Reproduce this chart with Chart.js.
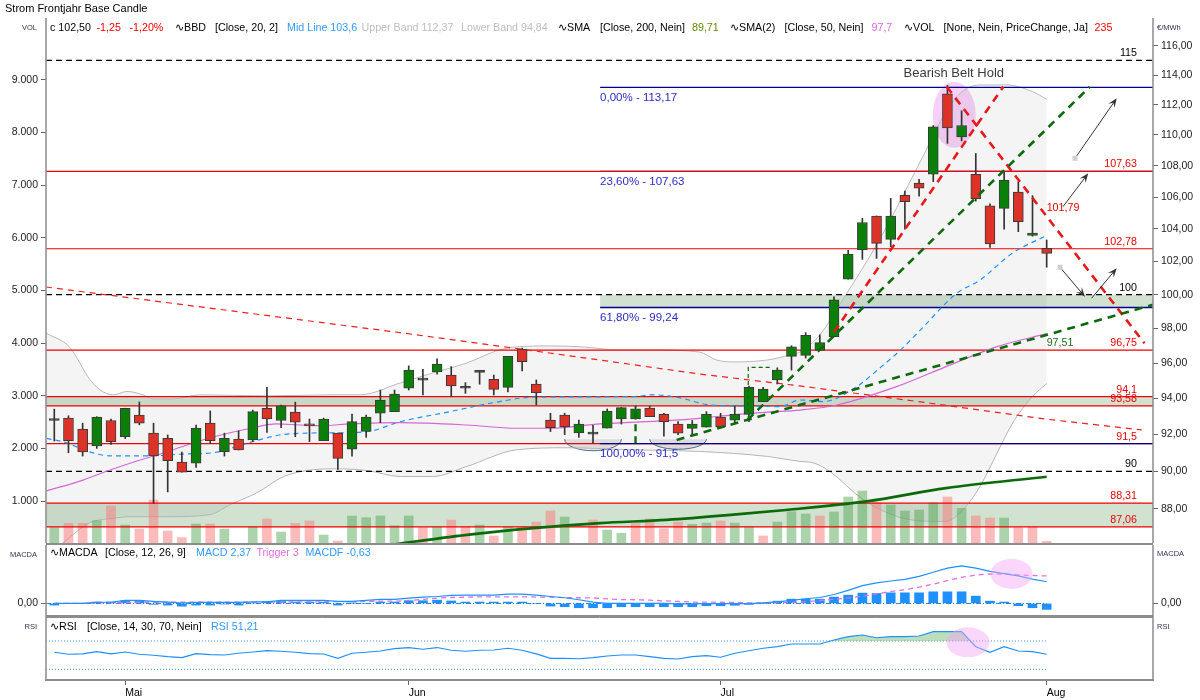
<!DOCTYPE html>
<html lang="de">
<head>
<meta charset="utf-8">
<title>Strom Frontjahr Base Candle</title>
<script src="https://cdn.jsdelivr.net/npm/chart.js@4.4.1/dist/chart.umd.min.js"></script>
<style>
  html, body { margin:0; padding:0; background:#fff; }
  body { width:1200px; height:700px; position:relative; overflow:hidden; }
  canvas { position:absolute; left:0; display:block; }
</style>
</head>
<body>
<canvas id="mainChart" width="1200" height="545" style="top:0"></canvas>
<canvas id="macdChart" width="1200" height="72" style="top:545px"></canvas>
<canvas id="rsiChart" width="1200" height="83" style="top:617px"></canvas>
<script>
// ---------------- DATA ----------------
// one entry per trading day, index 0 = late April, index 70 = 1 August
const candleOpen  = [92.77,92.90,92.29,91.37,92.77,91.88,93.07,92.07,91.79,90.49, 90.43,92.62,91.06,91.74,91.70,93.45,92.77,93.23,92.49,91.66, 92.07,91.19,92.16,93.18,93.26, 94.57,95.03,95.50,95.32,94.57, 95.47,95.08,94.62,96.80,94.80, 92.79,93.07,92.09,92.02,92.35, 92.85,92.85,93.46,93.11,92.57, 92.33,92.40,92.96,92.79,93.11, 93.82,95.04,96.39,96.44,96.73, 97.52,100.93,102.70,104.81,103.36, 106.10,106.88,107.45,112.74,109.87, 107.45,105.44,105.29,106.32,103.60, 102.80];
const candleHigh  = [93.40,93.03,92.62,92.98,92.85,93.45,93.80,92.62,91.97,91.04, 92.51,93.30,92.07,92.20,93.35,94.62,93.62,93.79,92.85,92.90, 92.07,93.13,93.07,94.47,94.47, 95.84,95.65,96.25,95.80,94.89, 95.50,95.32,96.39,96.86,95.04, 93.17,93.17,92.79,92.50,93.41, 93.50,93.57,93.57,93.17,92.71, 92.77,93.26,93.17,93.57,94.70, 94.62,95.73,97.00,97.76,97.64, 99.87,102.68,104.66,104.81,105.91, 106.37,107.13,110.62,113.30,111.60, 108.79,105.57,107.61,106.98,106.09, 103.32];
const candleLow   = [91.64,91.00,90.82,91.24,91.46,91.77,92.53,88.30,88.90,89.95, 90.21,91.52,90.82,91.15,91.61,92.11,92.37,91.88,91.61,91.66, 90.10,90.82,91.84,92.65,93.26, 94.47,94.19,95.37,94.13,94.28, 94.80,94.19,94.37,95.56,93.63, 92.16,91.99,91.84,91.52,92.35, 92.57,92.85,92.98,91.90,91.99, 91.95,92.40,92.35,92.65,92.71, 93.82,94.81,95.60,96.29,96.73, 97.52,100.93,102.13,102.19,102.90, 103.99,106.06,106.98,109.45,109.61, 105.74,102.86,103.99,103.83,103.55, 101.65];
const candleClose = [92.77,91.66,91.04,92.96,91.60,93.45,92.62,90.83,90.57,89.95, 92.35,91.66,91.79,91.15,93.26,92.85,93.58,92.68,92.47,92.85, 90.70,92.71,92.96,93.91,94.24, 95.60,95.03,95.94,94.70,94.57, 95.47,94.51,96.39,96.08,94.32, 92.37,92.42,92.57,92.02,93.29, 93.48,93.41,92.98,92.71,92.07, 92.57,93.11,92.42,93.11,94.62, 94.53,95.60,96.93,97.60,97.18, 99.70,102.46,104.40,103.11,104.81, 105.71,106.56,110.54,110.47,110.62, 105.89,103.07,107.08,104.46,103.75, 102.50];
const volume = [499,582,583,632,911,550,474,1025,436,310, 569,569,474,null,518,664,417,583,626,360, 247,721,689,721,537, 721,499,518,645,518, 550,342,518,518,607, 816,702,null,645,455, 392,575,664,480,607, 563,588,626,588,518, 342,607,803,759,721, 797,1082,1195,974,930, 816,835,974,1082,867, 721,683,683,500,518, 240];
// +1 price up (green volume bar), -1 price down (red volume bar)
const volumeChange = [1,-1,-1,1,-1,1,-1,-1,-1,-1, 1,-1,1,-1,1,-1,1,-1,-1,1, -1,1,1,1,1, 1,-1,1,-1,-1, 1,-1,1,-1,-1, -1,1,1,-1,1, 1,-1,-1,-1,-1, 1,1,-1,1,1, -1,1,1,1,-1, 1,1,1,-1,1, 1,1,1,-1,1, -1,-1,1,-1,-1, -1];

const macdLine = [0.00,0.00,0.00,0.13,0.13,0.33,0.33,0.22,0.15,0.05, 0.11,0.11,0.11,0.11,0.18,0.18,0.33,0.33,0.33,0.33, 0.22,0.22,0.33,0.44,0.44, 0.58,0.69,0.76,0.87,0.91, 0.91,0.91,1.02,1.02,0.91, 0.76,0.62,0.40,0.15,0.00, 0.00,0.00,0.00,0.00,-0.05, -0.05,-0.03,-0.03,-0.03,-0.03, 0.07,0.18,0.33,0.51,0.65, 0.98,1.42,1.95,2.25,2.45, 2.62,2.95,3.40,3.85,4.10, 3.85,3.50,3.25,3.00,2.65, 2.37];
const macdTrigger = [0.00,0.00,0.00,0.05,0.08,0.10,0.13,0.13,0.13,0.13, 0.13,0.13,0.13,0.13,0.13,0.15,0.15,0.18,0.18,0.18, 0.20,0.20,0.22,0.25,0.25, 0.33,0.44,0.58,0.65,0.68, 0.72,0.72,0.72,0.72,0.70, 0.69,0.62,0.62,0.60,0.50, 0.42,0.40,0.36,0.28,0.22, 0.15,0.15,0.13,0.12,0.06, 0.05,0.08,0.12,0.20,0.32, 0.45,0.60,0.80,1.05,1.30, 1.50,1.78,2.10,2.50,2.85, 3.10,3.22,3.20,3.12,3.05, 3.00];
const macdHistogram = [-0.18,0.00,0.00,0.15,0.15,0.30,0.30,-0.10,-0.18,-0.30, -0.18,-0.18,-0.07,-0.18,0.05,0.22,0.22,0.15,0.15,0.15, -0.18,0.02,0.00,0.15,0.15, 0.30,0.30,0.36,0.27,0.15, 0.15,0.15,0.15,0.15,0.00, -0.29,-0.36,-0.47,-0.47,-0.47, -0.36,-0.36,-0.36,-0.36,-0.36, -0.36,-0.25,-0.25,-0.20,-0.10, 0.00,0.25,0.47,0.47,0.47, 0.69,0.91,1.13,1.09,1.16, 1.16,1.16,1.27,1.27,1.27, 0.80,0.25,0.15,-0.25,-0.47, -0.65];
const rsiValues = [54.1,51.2,51.8,55.0,51.8,54.5,51.2,49.8,47.9,46.5, 52.1,50.7,50.3,52.6,54.5,56.4,55.5,54.1,52.1,51.6, 45.5,52.6,54.1,55.9,59.2, 60.7,58.3,60.7,56.9,55.5, 56.9,57.3,59.7,56.9,51.8, 45.5,45.5,45.0,46.5,48.8, 50.3,50.3,47.9,45.5,44.6, 47.9,49.3,47.0,52.6,56.3, 59.7,62.0,65.8,65.8,65.8, 71.5,76.2,78.5,74.7,76.2, 76.2,77.1,83.2,83.2,83.2, 62.0,54.0,62.0,55.9,55.0, 51.21];

// indicator curves as [day index, value] readings
const bollingerUpper = [[-0.585,97.74],[1.1,96.9],[2.53,95.04],[3.23,94.48],[4.14,94.20],[5.13,94.39],[6.26,94.20],[6.97,93.97],[8.38,93.97],[10.28,94.20],[15.0,94.14],[19.66,94.20],[21.57,94.20],[24.4,94.87],[26.7,95.44],[29.1,96.01],[31.4,96.76],[32.6,96.93],[35.0,96.99],[37.3,96.93],[39.7,96.76],[42.0,96.76],[45.5,96.64],[46.7,96.18],[47.9,96.07],[50.3,96.18],[51.9,96.47],[52.6,96.64],[54.0,97.63],[55.6,99.68],[58.2,103.32],[61.5,109.02],[62.7,111.21],[63.9,112.77],[65.3,113.33],[67.2,113.33],[69.0,112.88],[70,112.37]];
const bollingerLower = [[-0.585,85.5],[0.61,86.23],[2.52,87.28],[3.93,87.49],[5.55,87.59],[7.95,87.59],[10.98,87.70],[12.39,88.22],[14.29,88.85],[16.13,89.70],[17.82,90.04],[19.66,90.13],[22.06,90.04],[24.4,89.72],[26.7,89.72],[29.1,90.26],[32.6,91.16],[36.2,91.27],[40.8,91.16],[45.5,91.07],[50.3,90.80],[52.6,90.53],[53.5,90.46],[54.7,89.99],[57.05,88.49],[59.4,87.61],[61.8,87.35],[62.9,87.35],[64.1,87.96],[65.3,89.19],[66.5,90.98],[67.6,92.63],[69.0,94.11],[70,94.84]];
const bollingerMid = [[-0.54,91.78],[0.61,91.60],[2.73,90.99],[3.93,90.83],[6.75,90.83],[9.08,90.93],[11.2,91.00],[13.6,91.52],[15.9,91.97],[17.3,92.06],[19.66,92.09],[22.06,92.15],[24.4,92.70],[27.9,93.26],[31.4,93.82],[33.8,94.07],[40.8,94.10],[42.2,94.20],[43.9,94.07],[46.3,93.63],[49.1,93.57],[51.2,93.54],[52.6,93.91],[54.2,93.82],[56.6,94.66],[58.2,95.70],[59.7,96.76],[61.1,97.92],[63.65,100.08],[65.3,100.88],[67.6,102.52],[70,103.6]];
const sma50 = [[-0.54,88.95],[2.02,89.53],[3.94,90.07],[6.05,90.61],[7.46,90.93],[9.37,91.42],[11.2,91.86],[13.6,92.30],[15.7,92.58],[17.3,92.52],[18.7,92.48],[20.9,92.58],[24.4,92.65],[29.1,92.52],[32.6,92.34],[35.0,92.34],[38.5,92.58],[43.2,92.76],[45.5,92.89],[47.9,93.08],[50.3,93.23],[52.6,93.35],[55.2,93.63],[59.4,94.66],[62.9,95.80],[66.5,96.95],[70,97.70]];
const sma200 = [[22.0,85.95],[24.4,86.2],[29.1,86.65],[33.8,87.00],[38.5,87.26],[43.2,87.43],[47.9,87.70],[51.2,87.92],[57.3,88.40],[62.9,89.10],[70,89.71]];
const resistanceCurve = [[-0.585,100.46],[24.4,97.76],[33.8,96.71],[45.5,95.38],[52.6,94.70],[61.8,93.73],[70,92.84],[76.7,92.25]];

// drawn trend lines [day index, price]
const trendGreenShallow = [[43.9,91.70],[77.5,99.40]];
const trendGreenSteep   = [[48.9,92.80],[73.05,113.21]];
const trendRedRising    = [[55.0,97.80],[66.94,113.21]];
const trendRedFalling   = [[62.95,113.21],[76.9,97.14]];
const measureVertical   = [[41.0,91.52],[41.0,93.54]];
const measureBracket    = [[48.95,92.80],[48.95,95.76],[50.6,95.76]];
const projectionArrows  = [[72.0,108.48,74.94,112.43],[71.15,105.39,72.93,107.51],[70.94,101.65,72.7,99.88],[73.17,99.79,74.94,101.59]];
const cupShapes = [[36.0,40.0,91.74,91.11],[42.0,46.0,91.74,91.19]];

// horizontal levels
const redLevels = [107.63,102.78,96.75,94.1,93.58,91.5,88.31,87.06];
const redLevelLabels = ['107,63','102,78','96,75','94,1','93,58','91,5','88,31','87,06'];
const dashedLevels = [115,100,90];
const dashedLevelLabels = ['115','100','90'];
const fibStartIndex = 38.5;
const fibLevels = [113.17,107.63,99.24,91.5];
const fibLabels = ['0,00% - 113,17','23,60% - 107,63','61,80% - 99,24','100,00% - 91,5'];
const zoneBands = [[93.58,94.1],[87.06,88.31]];
const fibZone = [99.24,100];

// axis ticks
const monthTickIndex = [5,25,47,70];
const monthTickLabels = ['Mai','Jun','Jul','Aug'];
const priceTicks = [88,90,92,94,96,98,100,102,104,106,108,110,112,114,116];
const volumeTicks = [1000,2000,3000,4000,5000,6000,7000,8000,9000];

// ---------------- RENDERING ----------------
const X_MIN = -0.585, X_MAX = 77.5;
const PRICE_MIN = 86.23, PRICE_MAX = 117.95;
const VOL_MIN = 208.7, VOL_MAX = 10170;
const MACD_MIN = -1.48, MACD_MAX = 6.38;
const RSI_MIN = 14.9, RSI_MAX = 102.5;

const FONT = '"Liberation Sans", Arial, Helvetica, sans-serif';
Chart.defaults.font.family = FONT;
Chart.defaults.font.size = 10.5;
Chart.defaults.color = '#222';

const GREEN = '#0a800a', RED = '#dc3228', DOJI = '#333333';
const ZONE_FILL = 'rgba(145,185,145,0.42)';
const fmt2 = v => v.toFixed(2).replace('.', ',');
const fmtK = v => String(Math.round(v)).replace(/\B(?=(\d{3})+(?!\d))/g, '.');
const pts = arr => arr.map(p => ({x: p[0], y: p[1]}));
const series = arr => arr.map((v, i) => ({x: i, y: v}));
const hline = (v, from = X_MIN, to = X_MAX) => [{x: from, y: v}, {x: to, y: v}];
function line(data, o) {
  return Object.assign({type: 'line', data, yAxisID: 'yPrice', pointRadius: 0, pointHoverRadius: 0,
    borderWidth: 1, fill: false, tension: 0, clip: 0, borderCapStyle: 'butt'}, o);
}
function txt(ctx, s, x, y, color, size, align) {
  ctx.font = size + 'px ' + FONT; ctx.fillStyle = color;
  ctx.textAlign = align || 'left'; ctx.textBaseline = 'middle'; ctx.fillText(s, x, y);
}
function drawArrow(ctx, x1, y1, x2, y2) {
  const a = Math.atan2(y2 - y1, x2 - x1), L = 10, W = 0.38;
  ctx.beginPath(); ctx.moveTo(x1, y1); ctx.lineTo(x2 - 4 * Math.cos(a), y2 - 4 * Math.sin(a)); ctx.stroke();
  ctx.beginPath(); ctx.moveTo(x2, y2);
  ctx.lineTo(x2 - L * Math.cos(a - W), y2 - L * Math.sin(a - W));
  ctx.lineTo(x2 - L * 0.55 * Math.cos(a), y2 - L * 0.55 * Math.sin(a));
  ctx.lineTo(x2 - L * Math.cos(a + W), y2 - L * Math.sin(a + W));
  ctx.closePath(); ctx.fill();
}
function frame(ctx, a, topY, bottomY) {
  ctx.save(); ctx.strokeStyle = '#8c8c8c'; ctx.lineWidth = 1.5;
  ctx.beginPath();
  ctx.moveTo(a.left, topY); ctx.lineTo(a.left, a.bottom);
  ctx.moveTo(a.right, topY); ctx.lineTo(a.right, a.bottom);
  ctx.stroke();
  if (bottomY !== null) { ctx.lineWidth = 2; ctx.beginPath(); ctx.moveTo(a.left, bottomY); ctx.lineTo(a.right, bottomY); ctx.stroke(); }
  ctx.restore();
}
function ellipseAt(ctx, x, y, rx, ry, color) {
  ctx.save(); ctx.fillStyle = color; ctx.beginPath(); ctx.ellipse(x, y, rx, ry, 0, 0, Math.PI * 2); ctx.fill(); ctx.restore();
}
// keep chart areas exactly where the reference panels are (no label overhang padding)
function fixWidth(w) {
  return s => { s.width = w; s.paddingTop = 0; s.paddingBottom = 0; s.paddingLeft = 0; s.paddingRight = 0; };
}

// ---- main panel datasets ----
const mainDatasets = [];
zoneBands.forEach(([lo, hi]) => mainDatasets.push(line(hline(hi), {borderColor: 'rgba(0,0,0,0)', fill: {target: {value: lo}}, backgroundColor: ZONE_FILL, order: 100})));
mainDatasets.push(line(hline(fibZone[1], fibStartIndex), {borderColor: 'rgba(0,0,0,0)', fill: {target: {value: fibZone[0]}}, backgroundColor: ZONE_FILL, order: 100}));
mainDatasets.push(line(pts(bollingerUpper), {borderColor: '#b9b9b9', fill: '+1', backgroundColor: 'rgba(0,0,0,0.045)', order: 90, cubicInterpolationMode: 'monotone'}));
mainDatasets.push(line(pts(bollingerLower), {borderColor: '#b9b9b9', order: 90, cubicInterpolationMode: 'monotone'}));
mainDatasets.push({type: 'bar', yAxisID: 'yVol', data: series(volume),
  backgroundColor: volumeChange.map(c => c > 0 ? 'rgba(70,160,70,0.45)' : 'rgba(250,120,120,0.5)'),
  barThickness: 9, grouped: false, borderWidth: 0, order: 80, clip: 0});
fibLevels.forEach((v, i) => mainDatasets.push(line(hline(v, fibStartIndex), {borderColor: '#000090', borderWidth: 1.3, order: i === fibLevels.length - 1 ? 69 : 73})));
redLevels.forEach(v => mainDatasets.push(line(hline(v), {borderColor: '#f00000', borderWidth: 1.2, order: 71})));
dashedLevels.forEach(v => mainDatasets.push(line(hline(v), {borderColor: '#000', borderWidth: 1.2, borderDash: [6, 4], order: 71})));
mainDatasets.push(line(pts(resistanceCurve), {borderColor: '#f02020', borderWidth: 1.2, borderDash: [6, 5], order: 60}));
mainDatasets.push(line(pts(sma200), {borderColor: '#0b6b0b', borderWidth: 2.6, order: 60, cubicInterpolationMode: 'monotone'}));
mainDatasets.push(line(pts(sma50), {borderColor: '#d466d4', borderWidth: 1.2, order: 60, cubicInterpolationMode: 'monotone'}));
mainDatasets.push(line(pts(bollingerMid), {borderColor: '#1e90ff', borderWidth: 1.2, borderDash: [5, 4], order: 60, cubicInterpolationMode: 'monotone'}));
mainDatasets.push({type: 'bar', yAxisID: 'yPrice', data: candleLow.map((l, i) => ({x: i, y: [l, candleHigh[i]]})),
  backgroundColor: '#333', barThickness: 1, grouped: false, borderWidth: 0, order: 20, clip: 0});
mainDatasets.push({type: 'bar', yAxisID: 'yPrice', data: candleOpen.map((o, i) => ({x: i, y: [o, candleClose[i]]})),
  backgroundColor: candleOpen.map((o, i) => candleClose[i] > o ? GREEN : candleClose[i] < o ? RED : DOJI),
  borderColor: '#3a3a3a', borderWidth: 1, borderSkipped: false, minBarLength: 2,
  barThickness: 10, grouped: false, order: 10, clip: 0});
[trendGreenShallow, trendGreenSteep].forEach(t => mainDatasets.push(line(pts(t), {borderColor: '#0c6a0c', borderWidth: 2.6, borderDash: [8, 6], order: 5})));
[trendRedRising, trendRedFalling].forEach(t => mainDatasets.push(line(pts(t), {borderColor: '#e81818', borderWidth: 2.6, borderDash: [8, 6], order: 5})));
mainDatasets.push(line(pts(measureVertical), {borderColor: '#0c6a0c', borderWidth: 2.4, borderDash: [7, 5], order: 5}));
mainDatasets.push(line(pts(measureBracket), {borderColor: '#0c6a0c', borderWidth: 1.2, borderDash: [4, 3], order: 5}));

const mainDecor = {
  id: 'mainDecor',
  beforeDatasetsDraw(chart) {
    const {ctx, chartArea: a, scales: {x, yPrice}} = chart;
    ctx.save();
    ctx.beginPath(); ctx.rect(a.left, a.top, a.right - a.left, a.bottom - a.top); ctx.clip();
    ellipseAt(ctx, x.getPixelForValue(63.48), yPrice.getPixelForValue(111.33), 21.5, 33, 'rgba(240,170,240,0.55)');
    cupShapes.forEach(([from, to, rim, bottom]) => {
      const x1 = x.getPixelForValue(from), x2 = x.getPixelForValue(to);
      const y = yPrice.getPixelForValue(rim), yb = yPrice.getPixelForValue(bottom);
      ctx.beginPath(); ctx.ellipse((x1 + x2) / 2, y, (x2 - x1) / 2, yb - y, 0, 0, Math.PI);
      ctx.fillStyle = 'rgba(205,205,205,0.5)'; ctx.fill();
      ctx.strokeStyle = '#4a7090'; ctx.lineWidth = 1; ctx.stroke();
    });
    ctx.restore();
  },
  afterDraw(chart) {
    const {ctx, chartArea: a, scales: {x, yPrice}} = chart;
    const xp = v => x.getPixelForValue(v), yp = v => yPrice.getPixelForValue(v);
    ctx.save();
    // projection arrows
    ctx.strokeStyle = '#333'; ctx.fillStyle = '#333'; ctx.lineWidth = 1;
    projectionArrows.forEach(([i1, p1, i2, p2]) => drawArrow(ctx, xp(i1), yp(p1), xp(i2), yp(p2)));
    ctx.fillStyle = '#cfcfcf';
    [projectionArrows[0], projectionArrows[2]].forEach(([i1, p1]) => ctx.fillRect(xp(i1) - 2.5, yp(p1) - 2.5, 5, 5));
    // level labels
    const xr = a.right - 16;
    dashedLevels.forEach((v, i) => txt(ctx, dashedLevelLabels[i], xr, yp(v) - 7, '#000', 10.7, 'right'));
    redLevels.forEach((v, i) => txt(ctx, redLevelLabels[i], xr, yp(v) - 7, '#f00000', 10.7, 'right'));
    fibLevels.forEach((v, i) => txt(ctx, fibLabels[i], xp(fibStartIndex), yp(v) + 10, '#2c2cc4', 11.5, 'left'));
    txt(ctx, '97,51', xp(70), yp(96.75) - 7, '#1f6b1f', 10.7, 'left');
    txt(ctx, '101,79', xp(70), yp(105.31), '#f00000', 10.7, 'left');
    txt(ctx, 'Bearish Belt Hold', xp(63.45), yp(113.17) - 13.5, '#3a3a3a', 13, 'center');
    // title + legend
    txt(ctx, 'Strom Frontjahr Base Candle', 5, 9, '#000', 11, 'left');
    const legend = [[50,'c 102,50','#000'],[96.5,'-1,25','#f00'],[129.5,'-1,20%','#f00'],[175,'\u223FBBD','#000'],[215,'[Close, 20, 2]','#000'],[287,'Mid Line 103,6','#3399ff'],[361.5,'Upper Band 112,37','#bdbdbd'],[461,'Lower Band 94,84','#bdbdbd'],[558,'\u223FSMA','#000'],[600,'[Close, 200, Nein]','#000'],[692,'89,71','#5e8c00'],[730,'\u223FSMA(2)','#000'],[784.5,'[Close, 50, Nein]','#000'],[871.5,'97,7','#dd66dd'],[904,'\u223FVOL','#000'],[943.5,'[None, Nein, PriceChange, Ja]','#000'],[1094.5,'235','#f00']];
    legend.forEach(([lx, s, c]) => txt(ctx, s, lx, 28, c, 10.7, 'left'));
    txt(ctx, 'VOL', 37, 28, '#333355', 7.5, 'right');
    txt(ctx, '\u20AC/MWh', 1157, 28, '#333355', 7.5, 'left');
    ctx.restore();
    frame(ctx, a, a.top, 544);
  }
};

new Chart(document.getElementById('mainChart'), {
  type: 'line',
  data: {datasets: mainDatasets},
  options: {
    responsive: false, animation: false, events: [],
    layout: {padding: {top: 18, bottom: 2, left: 0, right: 0}},
    plugins: {legend: {display: false}, tooltip: {enabled: false}},
    scales: {
      x: {type: 'linear', min: X_MIN, max: X_MAX, display: false, offset: false},
      yVol: {type: 'linear', position: 'left', min: VOL_MIN, max: VOL_MAX, beginAtZero: false,
        afterBuildTicks: s => { s.ticks = volumeTicks.map(v => ({value: v})); },
        afterFit: fixWidth(46),
        ticks: {callback: v => fmtK(v), autoSkip: false, padding: 3, color: '#222'},
        grid: {drawOnChartArea: false, drawTicks: true, tickLength: 5, color: '#666'},
        border: {display: false}},
      yPrice: {type: 'logarithmic', position: 'right', min: PRICE_MIN, max: PRICE_MAX, beginAtZero: false,
        afterBuildTicks: s => { s.ticks = priceTicks.map(v => ({value: v})); },
        afterFit: fixWidth(47),
        ticks: {callback: v => fmt2(v), autoSkip: false, padding: 3, color: '#222'},
        grid: {drawOnChartArea: false, drawTicks: true, tickLength: 5, color: '#666'},
        border: {display: false}}
    }
  },
  plugins: [mainDecor]
});

// ---- MACD panel ----
const macdDecor = {
  id: 'macdDecor',
  afterDraw(chart) {
    const {ctx, chartArea: a, scales: {x, yR}} = chart;
    ctx.save();
    ctx.beginPath(); ctx.rect(a.left, a.top, a.right - a.left, a.bottom - a.top); ctx.clip();
    ellipseAt(ctx, x.getPixelForValue(67.52), yR.getPixelForValue(3.22), 21, 15, 'rgba(245,165,245,0.45)');
    ctx.restore();
    ctx.save();
    [[50,'\u223FMACDA','#000'],[105,'[Close, 12, 26, 9]','#000'],[196,'MACD 2,37','#3399ff'],[256.4,'Trigger 3','#e070e0'],[305.4,'MACDF -0,63','#3399ff']]
      .forEach(([lx, s, c]) => txt(ctx, s, lx, 8, c, 10.7, 'left'));
    txt(ctx, 'MACDA', 37, 10, '#333355', 7.5, 'right');
    txt(ctx, 'MACDA', 1157, 9, '#333355', 7.5, 'left');
    ctx.restore();
    frame(ctx, a, a.top, 71);
  }
};
const macdAxis = pos => ({type: 'linear', position: pos, min: MACD_MIN, max: MACD_MAX, beginAtZero: false,
  afterBuildTicks: s => { s.ticks = [{value: 0}]; },
  afterFit: fixWidth(pos === 'left' ? 46 : 47),
  ticks: {callback: v => fmt2(v), padding: 3, color: '#222'},
  grid: {drawOnChartArea: false, drawTicks: true, tickLength: 5, color: '#666'},
  border: {display: false}});
new Chart(document.getElementById('macdChart'), {
  type: 'line',
  data: {datasets: [
    {type: 'bar', yAxisID: 'yR', data: series(macdHistogram), backgroundColor: '#1e90ff', barThickness: 9, grouped: false, borderWidth: 0, order: 20, clip: 0},
    line(hline(0, X_MIN, 70), {yAxisID: 'yR', borderColor: '#2a7fd4', borderWidth: 1, borderDash: [5, 2, 1, 2], order: 15}),
    line(series(macdTrigger), {yAxisID: 'yR', borderColor: '#e070e0', borderWidth: 1.3, borderDash: [5, 4], order: 10}),
    line(series(macdLine), {yAxisID: 'yR', borderColor: '#1e90ff', borderWidth: 1.2, order: 5})
  ]},
  options: {
    responsive: false, animation: false, events: [],
    layout: {padding: 0},
    plugins: {legend: {display: false}, tooltip: {enabled: false}},
    scales: {
      x: {type: 'linear', min: X_MIN, max: X_MAX, display: false, offset: false},
      yL: macdAxis('left'),
      yR: macdAxis('right')
    }
  },
  plugins: [macdDecor]
});

// ---- RSI panel ----
const rsiDecor = {
  id: 'rsiDecor',
  afterDraw(chart) {
    const {ctx, chartArea: a, scales: {x, y}} = chart;
    ctx.save();
    ctx.beginPath(); ctx.rect(a.left, a.top, a.right - a.left, a.bottom - a.top); ctx.clip();
    ellipseAt(ctx, x.getPixelForValue(64.45), y.getPixelForValue(68.2), 21.5, 15, 'rgba(245,165,245,0.45)');
    ctx.restore();
    ctx.save();
    [[50,'\u223FRSI','#000'],[87,'[Close, 14, 30, 70, Nein]','#000'],[211,'RSI 51,21','#3399ff']]
      .forEach(([lx, s, c]) => txt(ctx, s, lx, 10, c, 10.7, 'left'));
    txt(ctx, 'RSI', 37, 10, '#333355', 7.5, 'right');
    txt(ctx, 'RSI', 1157, 10, '#333355', 7.5, 'left');
    ctx.strokeStyle = '#8c8c8c'; ctx.lineWidth = 1;
    ctx.beginPath(); ctx.moveTo(a.left, 0.5); ctx.lineTo(a.right, 0.5); ctx.stroke();
    ctx.restore();
    frame(ctx, a, 0, null);
  }
};
new Chart(document.getElementById('rsiChart'), {
  type: 'line',
  data: {datasets: [
    line(hline(70, X_MIN, 70), {yAxisID: 'y', borderColor: '#3c8ce6', borderWidth: 1, borderDash: [1, 2], order: 20}),
    line(hline(30, X_MIN, 70), {yAxisID: 'y', borderColor: '#3c8ce6', borderWidth: 1, borderDash: [1, 2], order: 20}),
    line(series(rsiValues), {yAxisID: 'y', borderColor: '#1e90ff', borderWidth: 1.1, order: 5,
      fill: {target: {value: 70}, above: 'rgba(120,190,120,0.5)', below: 'rgba(0,0,0,0)'}})
  ]},
  options: {
    responsive: false, animation: false, events: [],
    layout: {padding: {top: 1, left: 46, right: 47, bottom: 0}},
    plugins: {legend: {display: false}, tooltip: {enabled: false}},
    scales: {
      x: {type: 'linear', min: X_MIN, max: X_MAX, offset: false,
        afterBuildTicks: s => { s.ticks = monthTickIndex.map(v => ({value: v})); },
        afterFit: s => { s.height = 20; s.paddingLeft = 0; s.paddingRight = 0; },
        ticks: {callback: v => { const k = monthTickIndex.indexOf(v); return k >= 0 ? monthTickLabels[k] : ''; },
          align: 'start', padding: 2, autoSkip: false, maxRotation: 0, color: '#000', font: {size: 10.5}},
        grid: {drawOnChartArea: false, drawTicks: true, tickLength: 5, color: '#666'},
        border: {display: true, color: '#8c8c8c', width: 2}},
      y: {type: 'linear', display: false, min: RSI_MIN, max: RSI_MAX}
    }
  },
  plugins: [rsiDecor]
});
</script>
</body>
</html>
